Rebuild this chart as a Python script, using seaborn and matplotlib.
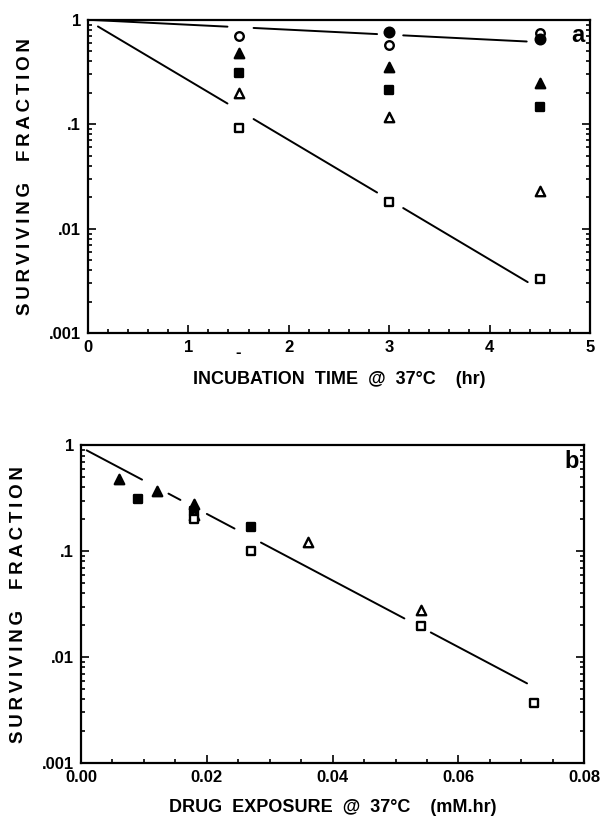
import numpy as np
import pandas as pd
import seaborn as sns
import matplotlib.pyplot as plt
from matplotlib.ticker import FixedLocator, FixedFormatter, MultipleLocator, LogLocator, NullFormatter

# --- panel a: surviving fraction vs incubation time ---
time_hr = [1.5, 3.0, 4.5]
a_open_circle = [0.70, 0.57, 0.75]
a_filled_circle = [np.nan, 0.76, 0.66]
a_filled_tri = [0.48, 0.35, 0.25]
a_filled_sq = [0.31, 0.215, 0.145]
a_open_tri = [0.20, 0.118, 0.023]
a_open_sq = [0.093, 0.018, 0.0033]

# fitted lines: log10 intercept, slope, x start, x end
a_fit_upper = (0.0, -0.0476, 0.05, 4.37)
a_fit_lower = (-0.007, -0.5715, 0.10, 4.38)
a_gaps = [1.52, 3.01]

# --- panel b: surviving fraction vs drug exposure ---
b_filled_tri_x = [0.006, 0.012, 0.018]
b_filled_tri_y = [0.485, 0.37, 0.28]
b_filled_sq_x = [0.009, 0.018, 0.027]
b_filled_sq_y = [0.314, 0.24, 0.17]
b_open_tri_x = [0.018, 0.036, 0.054]
b_open_tri_y = [0.22, 0.122, 0.0277]
b_open_sq_x = [0.018, 0.027, 0.054, 0.072]
b_open_sq_y = [0.20, 0.10, 0.0197, 0.0037]
b_fit = (-0.019, -31.44, 0.0009, 0.0709)
b_gaps = [0.0118, 0.0179, 0.0265, 0.0535]

y_ticks = [1, 0.1, 0.01, 0.001]
y_ticklabels = ['1', '.1', '.01', '.001']

sns.set_style('ticks')
plt.rcParams['font.family'] = ['Liberation Sans', 'DejaVu Sans']
plt.rcParams['font.weight'] = 'bold'
for k in ('text.color', 'axes.labelcolor', 'xtick.color', 'ytick.color', 'axes.edgecolor'):
    plt.rcParams[k] = 'black'

# the y label in the original is letter-spaced
ylab = '\u2009'.join('SURVIVING') + '    ' + '\u2009'.join('FRACTION')


def fit_segments(fit, gaps, half):
    b0, m, x0, x1 = fit
    edges = [x0]
    for g in gaps:
        edges += [g - half, g + half]
    edges.append(x1)
    rows = []
    for i in range(0, len(edges), 2):
        for x in (edges[i], edges[i + 1]):
            rows.append({'seg': i // 2, 'x': x, 'y': 10 ** (b0 + m * x)})
    return pd.DataFrame(rows)


def pts(ax, x, y, marker, filled, size=46):
    sns.scatterplot(x=x, y=y, ax=ax, marker=marker, s=size,
                    facecolor='black' if filled else 'white',
                    edgecolor='black', linewidth=1.7, zorder=3, legend=False)


def style_axes(ax):
    ax.set_yscale('log')
    ax.set_ylim(0.001, 1)
    ax.yaxis.set_major_locator(FixedLocator(y_ticks))
    ax.yaxis.set_major_formatter(FixedFormatter(y_ticklabels))
    ax.yaxis.set_minor_locator(LogLocator(base=10, subs=np.arange(2, 10)))
    ax.yaxis.set_minor_formatter(NullFormatter())
    ax.tick_params(which='both', direction='in', right=True, top=False,
                   width=1.2, labelsize=12, pad=5)
    ax.tick_params(which='major', length=6)
    ax.tick_params(which='minor', length=3)
    for s in ax.spines.values():
        s.set_visible(True)
        s.set_linewidth(1.6)
    ax.set_ylabel(ylab, fontsize=13.5, fontweight='bold', labelpad=11)


fig = plt.figure(figsize=(6.02, 8.23), dpi=100)

# panel a
ax1 = fig.add_axes([0.146, 0.595, 0.834, 0.381])
for fit in (a_fit_upper, a_fit_lower):
    sns.lineplot(data=fit_segments(fit, a_gaps, 0.13), x='x', y='y', units='seg',
                 estimator=None, color='black', lw=1.4, ax=ax1)
pts(ax1, time_hr, a_open_circle, 'o', False, 38)
pts(ax1, time_hr, a_filled_circle, 'o', True, 48)
pts(ax1, time_hr, a_filled_tri, '^', True)
pts(ax1, time_hr, a_filled_sq, 's', True, 40)
pts(ax1, time_hr, a_open_tri, '^', False)
pts(ax1, time_hr, a_open_sq, 's', False, 40)
style_axes(ax1)
ax1.set_xlim(0, 5)
ax1.xaxis.set_major_locator(MultipleLocator(1))
ax1.xaxis.set_minor_locator(MultipleLocator(0.2))
ax1.set_xlabel('INCUBATION  TIME  @  37°C    (hr)', fontsize=13, fontweight='bold', labelpad=11)
ax1.text(1.5, -0.06, '-', transform=ax1.get_xaxis_transform(), ha='center', va='center',
         fontsize=12, fontweight='bold')
ax1.text(0.99, 0.95, 'a', transform=ax1.transAxes, ha='right', va='center',
         fontsize=17, fontweight='bold')

# panel b
ax2 = fig.add_axes([0.1346, 0.0729, 0.836, 0.386])
sns.lineplot(data=fit_segments(b_fit, b_gaps, 0.0021), x='x', y='y', units='seg',
             estimator=None, color='black', lw=1.4, ax=ax2)
pts(ax2, b_filled_tri_x, b_filled_tri_y, '^', True)
pts(ax2, b_filled_sq_x, b_filled_sq_y, 's', True, 40)
pts(ax2, b_open_tri_x, b_open_tri_y, '^', False)
pts(ax2, b_open_sq_x, b_open_sq_y, 's', False, 40)
style_axes(ax2)
ax2.set_xlim(0, 0.08)
ax2.xaxis.set_major_locator(MultipleLocator(0.02))
ax2.xaxis.set_minor_locator(MultipleLocator(0.005))
ax2.xaxis.set_major_formatter(plt.FuncFormatter(lambda v, p: f'{v:.2f}'))
ax2.set_xlabel('DRUG  EXPOSURE  @  37°C    (mM.hr)', fontsize=13, fontweight='bold', labelpad=10)
ax2.text(0.99, 0.95, 'b', transform=ax2.transAxes, ha='right', va='center',
         fontsize=17, fontweight='bold')

fig.savefig('out.png', dpi=100)
